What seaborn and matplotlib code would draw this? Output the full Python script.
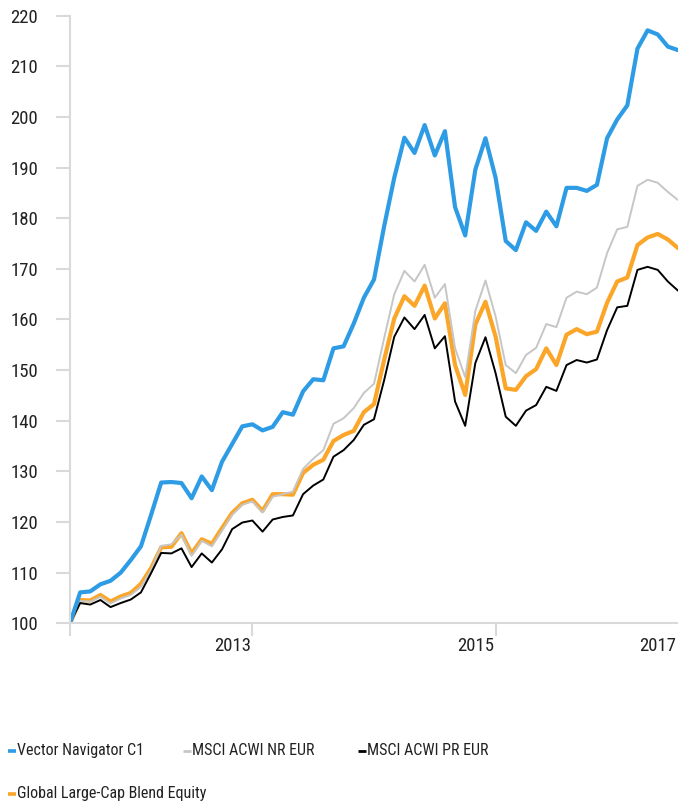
import matplotlib
matplotlib.use("Agg")
import matplotlib.pyplot as plt
from matplotlib.lines import Line2D
import seaborn as sns
import pandas as pd
import numpy as np

months = list(range(61))

vector_nav = [100.0, 106.1, 106.3, 107.7, 108.4, 110.0, 112.5, 115.2, 121.4, 127.8,
              127.9, 127.7, 124.7, 129.0, 126.3, 131.9, 135.4, 138.9, 139.3, 138.1,
              138.8, 141.7, 141.2, 145.8, 148.2, 148.0, 154.3, 154.7, 159.2, 164.3,
              167.9, 178.4, 188.0, 195.9, 192.9, 198.4, 192.4, 197.2, 182.2, 176.6,
              189.6, 195.8, 188.0, 175.5, 173.7, 179.2, 177.5, 181.3, 178.4, 186.0,
              186.0, 185.4, 186.6, 195.8, 199.5, 202.3, 213.5, 217.1, 216.3, 213.9,
              213.2]

msci_nr = [100.0, 104.4, 104.3, 105.2, 103.9, 104.9, 105.6, 107.2, 110.5, 115.3,
           115.6, 117.5, 113.3, 116.3, 115.2, 118.3, 121.4, 123.4, 124.1, 121.9,
           125.0, 125.5, 126.0, 130.5, 132.5, 134.2, 139.4, 140.5, 142.5, 145.5,
           147.3, 156.3, 165.0, 169.6, 167.5, 170.8, 164.3, 167.0, 154.3, 148.6,
           161.7, 167.7, 160.6, 151.0, 149.4, 153.0, 154.4, 159.1, 158.5, 164.3,
           165.5, 165.0, 166.3, 173.1, 177.8, 178.3, 186.4, 187.6, 187.0, 185.2,
           183.6]

category = [100.0, 104.6, 104.5, 105.6, 104.3, 105.3, 106.0, 107.8, 110.9, 115.0,
            115.1, 117.8, 113.8, 116.6, 115.7, 118.8, 121.8, 123.7, 124.4, 122.2,
            125.5, 125.5, 125.4, 129.7, 131.3, 132.3, 136.0, 137.2, 138.0, 141.7,
            143.3, 152.0, 160.2, 164.6, 162.7, 166.7, 160.2, 163.2, 151.0, 145.1,
            159.0, 163.5, 156.6, 146.4, 146.1, 148.8, 150.2, 154.3, 151.0, 157.0,
            158.1, 157.1, 157.6, 163.3, 167.5, 168.3, 174.7, 176.2, 176.9, 175.8,
            174.1]

msci_pr = [100.0, 104.0, 103.7, 104.6, 103.2, 104.0, 104.7, 106.1, 109.9, 113.9,
           113.8, 114.8, 111.1, 113.8, 112.0, 114.6, 118.6, 119.9, 120.3, 118.1,
           120.5, 121.0, 121.3, 125.5, 127.2, 128.4, 132.9, 134.2, 136.2, 139.2,
           140.3, 148.0, 156.6, 160.4, 158.1, 160.9, 154.3, 156.7, 143.8, 139.0,
           151.4, 156.5, 149.4, 140.8, 139.0, 142.0, 143.1, 146.7, 145.9, 151.0,
           152.0, 151.5, 152.1, 157.9, 162.4, 162.7, 169.8, 170.4, 169.8, 167.5,
           165.7]

series_names = ["Vector Navigator C1", "MSCI ACWI NR EUR", "MSCI ACWI PR EUR",
                "Global Large-Cap Blend Equity"]
year_ticks = [0, 18, 42]
year_label_pos = [16, 40, 58]
year_labels = ["2013", "2015", "2017"]
y_ticks = list(range(100, 221, 10))

sns.set_style("white")
plt.rcParams['font.family'] = ['Roboto Condensed', 'Liberation Sans Narrow', 'DejaVu Sans']
plt.rcParams['font.stretch'] = 'condensed'

fig = plt.figure(figsize=(6.78, 8.01), dpi=100)
ax = fig.add_axes([70 / 678, (801 - 623.3) / 801, 608 / 678, 607.6 / 801])

colors = {
    "Vector Navigator C1": "#2E9BE5",
    "MSCI ACWI NR EUR": "#C6C6C6",
    "MSCI ACWI PR EUR": "#000000",
    "Global Large-Cap Blend Equity": "#FBA629",
}
widths = {
    "Vector Navigator C1": 3.0,
    "MSCI ACWI NR EUR": 1.4,
    "MSCI ACWI PR EUR": 1.4,
    "Global Large-Cap Blend Equity": 3.0,
}
data = {
    "Vector Navigator C1": vector_nav,
    "MSCI ACWI NR EUR": msci_nr,
    "MSCI ACWI PR EUR": msci_pr,
    "Global Large-Cap Blend Equity": category,
}

for name in ["Global Large-Cap Blend Equity", "MSCI ACWI NR EUR", "MSCI ACWI PR EUR",
             "Vector Navigator C1"]:
    df = pd.DataFrame({"month": months, "value": data[name]})
    sns.lineplot(data=df, x="month", y="value", ax=ax, color=colors[name],
                 linewidth=widths[name], legend=False)

ax.set_xlim(0, 60)
ax.set_ylim(100, 220)
ax.set_xlabel("")
ax.set_ylabel("")

spine_color = "#D9D9D9"
for s in ["top", "right"]:
    ax.spines[s].set_visible(False)
for s in ["left", "bottom"]:
    ax.spines[s].set_color(spine_color)
    ax.spines[s].set_linewidth(1.5)

ax.set_yticks(y_ticks)
ax.set_yticklabels([str(v) for v in y_ticks])
ax.tick_params(axis="y", length=10, width=1.5, color=spine_color, pad=13,
               labelsize=13.5, labelcolor="#222222", left=True)

ax.set_xticks(year_ticks)
ax.set_xticklabels([""] * len(year_ticks))
ax.tick_params(axis="x", which="major", length=9.5, width=1.5, color=spine_color,
               bottom=True)
ax.set_xticks(year_label_pos, minor=True)
ax.set_xticklabels(year_labels, minor=True)
ax.tick_params(axis="x", which="minor", length=0, pad=10, labelsize=13.5,
               labelcolor="#222222")

# legend (row-major layout, fixed column widths)
legend_items = [
    ("Vector Navigator C1", 8, 750.5),
    ("MSCI ACWI NR EUR", 183, 750.5),
    ("MSCI ACWI PR EUR", 358, 750.5),
    ("Global Large-Cap Blend Equity", 8, 793.5),
]
W, H = 678, 801
for name, px, py in legend_items:
    yf = (H - py) / H
    fig.add_artist(Line2D([px / W, (px + 7.5) / W], [yf, yf], transform=fig.transFigure,
                          color=colors[name], linewidth=2.6 if widths[name] > 2 else 2.0,
                          solid_capstyle="butt"))
    fig.text((px + 9) / W, yf, name, ha="left", va="center", fontsize=11.5,
             color="#222222")

fig.savefig("out.png", dpi=100)
